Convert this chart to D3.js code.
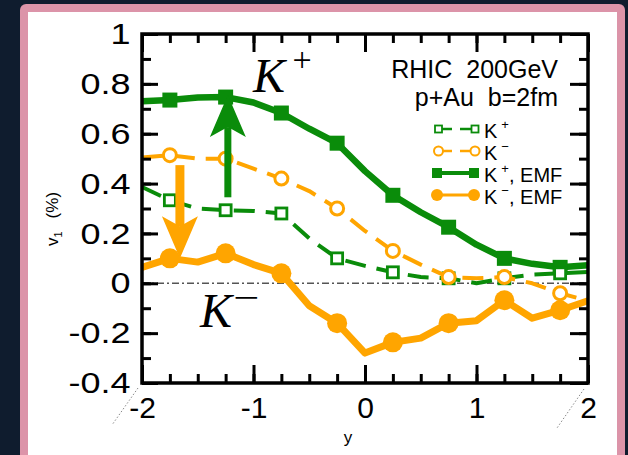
<!DOCTYPE html>
<html>
<head>
<meta charset="utf-8">
<script src="https://cdn.jsdelivr.net/npm/d3@7"></script>
<style>
  html, body { margin: 0; padding: 0; background: #0f1c2e; }
  svg { display: block; }
  text { white-space: pre; }
</style>
</head>
<body>
<svg id="chart" width="628" height="455"></svg>
<script>
// Rapidity grid of the transport calculation (step 0.25); markers sit on every other point
const rapidity = [-2, -1.75, -1.5, -1.25, -1, -0.75, -0.5, -0.25, 0, 0.25, 0.5, 0.75, 1, 1.25, 1.5, 1.75, 2];

// Directed flow v1 (%) for kaons, without and with the electromagnetic field (EMF)
const v1KPlus     = [0.386, 0.333, 0.30, 0.293, 0.29, 0.28, 0.18, 0.10, 0.07, 0.044, 0.025, 0.02, 0.0, 0.02, 0.035, 0.04, 0.045];
const v1KMinus    = [0.505, 0.514, 0.50, 0.50, 0.46, 0.42, 0.37, 0.30, 0.21, 0.13, 0.075, 0.025, 0.02, 0.025, 0.0, -0.04, -0.07];
const v1KPlusEMF  = [0.73, 0.735, 0.745, 0.747, 0.725, 0.683, 0.62, 0.562, 0.45, 0.353, 0.285, 0.225, 0.155, 0.10, 0.078, 0.064, 0.072];
const v1KMinusEMF = [0.064, 0.10, 0.085, 0.12, 0.075, 0.04, -0.09, -0.16, -0.28, -0.237, -0.22, -0.16, -0.15, -0.068, -0.14, -0.108, -0.07];

// Axis ticks
const xTickValues = [-2, -1, 0, 1, 2];
const xTickLabels = ["-2", "-1", "0", "1", "2"];
const yTickValues = [-0.4, -0.2, 0, 0.2, 0.4, 0.6, 0.8, 1];
const yTickLabels = ["-0.4", "-0.2", "0", "0.2", "0.4", "0.6", "0.8", "1"];

// Field-induced shifts shown as arrows: rapidity, start and end v1
const arrowRapidity = [-1.23, -1.66];
const arrowFrom     = [0.345, 0.474];
const arrowTo       = [0.755, 0.10];

// Legend
const legendSup    = ["+", "\u2212", "+", "\u2212"];
const legendSuffix = ["", "", ", EMF", ", EMF"];

const GREEN = "#0a8c0a";
const ORANGE = "#ffa500";

const svg = d3.select("#chart");

// Card: pink border with white panel
svg.append("rect").attr("x", 0).attr("y", 0).attr("width", 628).attr("height", 455).attr("fill", "#0f1c2e");
svg.append("rect").attr("x", 20).attr("y", 4).attr("width", 605).attr("height", 480).attr("rx", 6).attr("fill", "#dc94a9");
svg.append("rect").attr("x", 28).attr("y", 12).attr("width", 589).attr("height", 470).attr("fill", "#ffffff");

const x = d3.scaleLinear().domain([-2, 2]).range([142, 588]);
const y = d3.scaleLinear().domain([-0.4, 1]).range([383, 34]);

// Zero reference line
svg.append("line")
  .attr("x1", x(-2)).attr("x2", x(2)).attr("y1", y(0)).attr("y2", y(0))
  .attr("stroke", "#555").attr("stroke-width", 1.5)
  .attr("stroke-dasharray", "7,3,2,3");

// Series
const series = [
  { values: v1KPlusEMF,  color: GREEN,  dashed: false, marker: "square", open: false, lw: 6.5 },
  { values: v1KPlus,     color: GREEN,  dashed: true,  marker: "square", open: true,  lw: 4 },
  { values: v1KMinus,    color: ORANGE, dashed: true,  marker: "circle", open: true,  lw: 4 },
  { values: v1KMinusEMF, color: ORANGE, dashed: false, marker: "circle", open: false, lw: 7 }
];

const line = d3.line().x((d, i) => x(rapidity[i])).y(d => y(d));

series.forEach(s => {
  const g = svg.append("g");
  g.append("path")
    .attr("d", line(s.values))
    .attr("fill", "none")
    .attr("stroke", s.color)
    .attr("stroke-width", s.lw)
    .attr("stroke-linejoin", "round")
    .attr("stroke-dasharray", s.dashed ? "21,11" : null);
  const pts = s.values.map((v, i) => ({ r: rapidity[i], v })).filter((d, i) => i % 2 === 1);
  if (s.marker === "square") {
    const size = s.open ? 11 : 15;
    g.selectAll("rect").data(pts).join("rect")
      .attr("x", d => x(d.r) - size / 2).attr("y", d => y(d.v) - size / 2)
      .attr("width", size).attr("height", size)
      .attr("fill", s.open ? "#fff" : s.color)
      .attr("stroke", s.color).attr("stroke-width", s.open ? 2.8 : 0);
  } else {
    g.selectAll("circle").data(pts).join("circle")
      .attr("cx", d => x(d.r)).attr("cy", d => y(d.v))
      .attr("r", s.open ? 6.5 : 10)
      .attr("fill", s.open ? "#fff" : s.color)
      .attr("stroke", s.color).attr("stroke-width", s.open ? 3 : 0);
  }
});

// Arrows: shaft plus swept-back head
const arrowColors = [GREEN, ORANGE];
const shaftWidths = [7, 9];
arrowRapidity.forEach((r, i) => {
  const ax = x(r), y0 = y(arrowFrom[i]), y1 = y(arrowTo[i]);
  const dir = y1 < y0 ? 1 : -1;           // 1: pointing up
  const headLen = 42, headHalf = 18, notch = 10;
  const g = svg.append("g").attr("fill", arrowColors[i]);
  const shaftEnd = y1 + dir * (headLen - notch);
  g.append("rect")
    .attr("x", ax - shaftWidths[i] / 2)
    .attr("y", Math.min(y0, shaftEnd))
    .attr("width", shaftWidths[i])
    .attr("height", Math.abs(y0 - shaftEnd));
  const pts = [
    [ax, y1],
    [ax + headHalf, y1 + dir * headLen],
    [ax, y1 + dir * (headLen - notch)],
    [ax - headHalf, y1 + dir * headLen]
  ];
  g.append("polygon").attr("points", pts.map(p => p.join(",")).join(" "));
});

// Axes
const axisStyle = g => {
  g.select(".domain").remove();
  g.selectAll(".tick line").attr("stroke", "#000").attr("stroke-width", 3);
};
const minorX = d3.range(-2, 2.001, 0.25);
const minorY = d3.range(-0.4, 1.001, 0.1);

svg.append("g").attr("transform", `translate(0,${y(-0.4)})`)
  .call(d3.axisBottom(x).tickValues(minorX).tickFormat("").tickSize(-9).tickSizeOuter(0)).call(axisStyle);
svg.append("g").attr("transform", `translate(0,${y(1)})`)
  .call(d3.axisTop(x).tickValues(minorX).tickFormat("").tickSize(-9).tickSizeOuter(0)).call(axisStyle);
svg.append("g").attr("transform", `translate(0,${y(1)})`)
  .call(d3.axisTop(x).tickValues(xTickValues).tickFormat("").tickSize(-18).tickSizeOuter(0)).call(axisStyle);
svg.append("g").attr("transform", `translate(${x(-2)},0)`)
  .call(d3.axisLeft(y).tickValues(minorY).tickFormat("").tickSize(-9).tickSizeOuter(0)).call(axisStyle);
svg.append("g").attr("transform", `translate(${x(2)},0)`)
  .call(d3.axisRight(y).tickValues(minorY).tickFormat("").tickSize(-9).tickSizeOuter(0)).call(axisStyle);
svg.append("g").attr("transform", `translate(${x(2)},0)`)
  .call(d3.axisRight(y).tickValues(yTickValues).tickFormat("").tickSize(-18).tickSizeOuter(0)).call(axisStyle);

const xAxis = svg.append("g").attr("transform", `translate(0,${y(-0.4)})`)
  .call(d3.axisBottom(x).tickValues(xTickValues).tickFormat((d, i) => xTickLabels[i]).tickSize(-18).tickPadding(13.5).tickSizeOuter(0))
  .call(axisStyle);
xAxis.selectAll("text").attr("font-family", "'Liberation Sans', Arial, sans-serif").attr("font-size", 30).attr("fill", "#000");

const yAxis = svg.append("g").attr("transform", `translate(${x(-2)},0)`)
  .call(d3.axisLeft(y).tickValues(yTickValues).tickFormat((d, i) => yTickLabels[i]).tickSize(-16).tickPadding(9.5).tickSizeOuter(0))
  .call(axisStyle);
yAxis.selectAll("text")
  .attr("font-family", "'Liberation Sans', Arial, sans-serif").attr("font-size", 30).attr("fill", "#000")
  .attr("transform", "scale(1.2,1)");

// Plot frame
svg.append("rect")
  .attr("x", x(-2)).attr("y", y(1))
  .attr("width", x(2) - x(-2)).attr("height", y(-0.4) - y(1))
  .attr("fill", "none").attr("stroke", "#000").attr("stroke-width", 3.5);

// Faint dotted corner strokes
svg.append("line").attr("x1", 138).attr("y1", 388).attr("x2", 112).attr("y2", 425)
  .attr("stroke", "#888").attr("stroke-width", 1).attr("stroke-dasharray", "1.5,2");
svg.append("line").attr("x1", 584).attr("y1", 389).attr("x2", 557).attr("y2", 428)
  .attr("stroke", "#888").attr("stroke-width", 1).attr("stroke-dasharray", "1.5,2");

// Axis titles
const sans = "'Liberation Sans', Arial, sans-serif";
svg.append("text").attr("x", 348).attr("y", 443).attr("text-anchor", "middle")
  .attr("font-family", sans).attr("font-size", 17).text("y");
const yTitle = svg.append("text").attr("transform", "translate(58,246) rotate(-90)")
  .attr("font-family", sans).attr("font-size", 17);
yTitle.append("tspan").text("v");
yTitle.append("tspan").attr("font-size", 11).attr("dy", 4).text("1");
yTitle.append("tspan").attr("dy", -4).attr("dx", 13).text("(%)");

// Particle annotations
const serif = "'Liberation Serif', 'Times New Roman', serif";
svg.append("text").attr("x", 253).attr("y", 92).attr("font-family", serif).attr("font-style", "italic")
  .attr("font-size", 48).text("K");
svg.append("text").attr("x", 302).attr("y", 71).attr("text-anchor", "middle").attr("font-family", serif)
  .attr("font-size", 34).text("+");
svg.append("text").attr("x", 200).attr("y", 327).attr("font-family", serif).attr("font-style", "italic")
  .attr("font-size", 48).text("K");
svg.append("text").attr("x", 233).attr("y", 309).attr("font-family", serif)
  .attr("font-size", 34).attr("textLength", 26).attr("lengthAdjust", "spacingAndGlyphs").text("\u2212");

// Collision system
svg.append("text").attr("x", 558).attr("y", 78).attr("text-anchor", "end")
  .attr("font-family", sans).attr("font-size", 25).text("RHIC  200GeV");
svg.append("text").attr("x", 558).attr("y", 105.5).attr("text-anchor", "end")
  .attr("font-family", sans).attr("font-size", 25).text("p+Au  b=2fm");

// Legend
const legend = svg.append("g");
const rowY = [129, 151, 173, 195];
const legendSeries = [series[1], series[2], series[0], series[3]];
legendSeries.forEach((s, i) => {
  const cy = rowY[i];
  const g = legend.append("g");
  if (s.dashed) {
    g.append("line").attr("x1", 442).attr("x2", 452).attr("y1", cy).attr("y2", cy)
      .attr("stroke", s.color).attr("stroke-width", 2.5);
    g.append("line").attr("x1", 460).attr("x2", 471).attr("y1", cy).attr("y2", cy)
      .attr("stroke", s.color).attr("stroke-width", 2.5);
  } else {
    g.append("line").attr("x1", 437).attr("x2", 474).attr("y1", cy).attr("y2", cy)
      .attr("stroke", s.color).attr("stroke-width", s.marker === "square" ? 4 : 3);
  }
  const ends = s.dashed ? [438.5, 475] : [437, 474];
  ends.forEach(ex => {
    if (s.marker === "square") {
      const sz = s.open ? 7 : 10;
      g.append("rect").attr("x", ex - sz / 2).attr("y", cy - sz / 2).attr("width", sz).attr("height", sz)
        .attr("fill", s.open ? "#fff" : s.color).attr("stroke", s.color).attr("stroke-width", s.open ? 1.8 : 0);
    } else {
      g.append("circle").attr("cx", ex).attr("cy", cy).attr("r", s.open ? 4.5 : 6)
        .attr("fill", s.open ? "#fff" : s.color).attr("stroke", s.color).attr("stroke-width", s.open ? 2 : 0);
    }
  });
  const t = g.append("text").attr("x", 484).attr("y", cy + 9).attr("font-family", sans).attr("font-size", 20);
  t.append("tspan").text("K");
  t.append("tspan").attr("font-size", 13).attr("dx", 4).attr("dy", -9).text(legendSup[i]);
  if (legendSuffix[i]) t.append("tspan").attr("dy", 9).text(legendSuffix[i]);
});
</script>
</body>
</html>
